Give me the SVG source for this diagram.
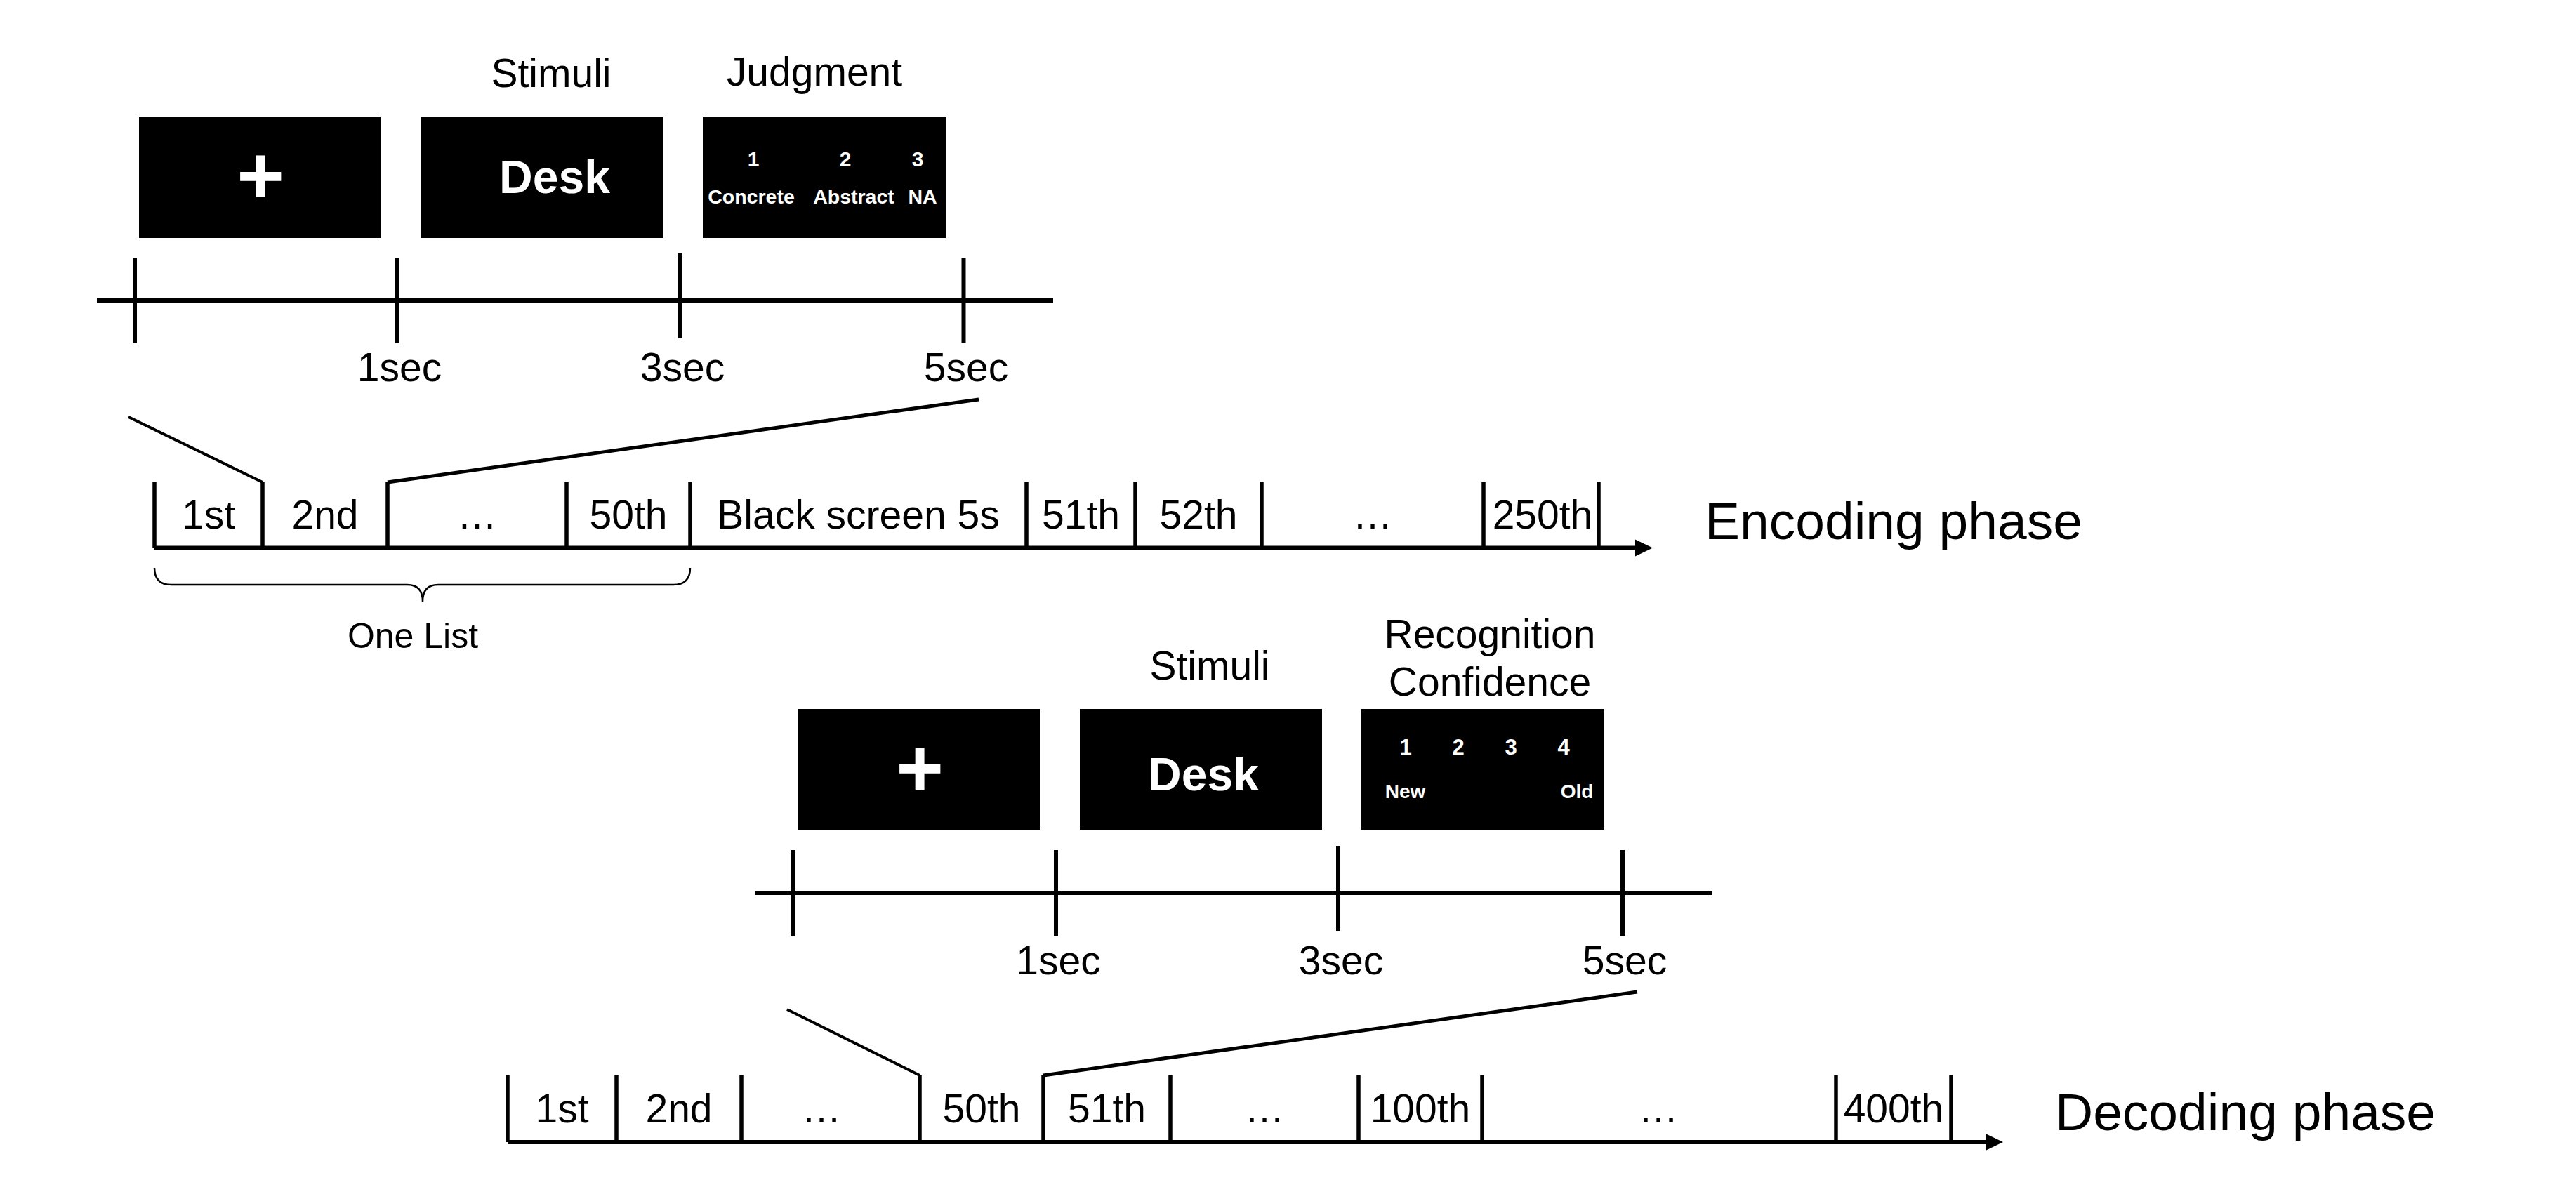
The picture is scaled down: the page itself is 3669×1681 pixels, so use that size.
<svg xmlns="http://www.w3.org/2000/svg" width="3669" height="1681" viewBox="0 0 3669 1681">
<style>
  .bg{fill:#ffffff}
  .screen{fill:#000000}
  .axis{stroke:#000;stroke-width:6;fill:none}
  .tick{stroke:#000;stroke-width:6;fill:none}
  .cell{stroke:#000;stroke-width:5.5;fill:none}
  .zoom{stroke:#000;stroke-width:4;fill:none}
  .zoom2{stroke:#000;stroke-width:5;fill:none}
  .brace{stroke:#000;stroke-width:2.5;fill:none}
  text{font-family:"Liberation Sans",Arial,sans-serif;fill:#000}
  .lbl{font-size:57px;text-anchor:middle}
  .phase{font-size:75px}
  .small{font-size:50px;text-anchor:middle}
  .w{fill:#fff;font-weight:bold;text-anchor:middle}
</style>
<rect class="bg" x="0" y="0" width="3669" height="1681"/>

<!-- ===== Encoding trial ===== -->
<g id="enc-fixation">
  <rect class="screen" x="198" y="167" width="345" height="172"/>
  <text class="w" x="371" y="290" font-size="116">+</text>
</g>
<g id="enc-stimulus">
  <text class="lbl" x="785" y="124">Stimuli</text>
  <rect class="screen" x="600" y="167" width="345" height="172"/>
  <text class="w" x="790" y="275" font-size="66">Desk</text>
</g>
<g id="enc-judgment">
  <text class="lbl" x="1160" y="122">Judgment</text>
  <rect class="screen" x="1001" y="167" width="346" height="172"/>
  <text class="w" x="1073" y="237" font-size="30">1</text>
  <text class="w" x="1204" y="237" font-size="30">2</text>
  <text class="w" x="1307" y="237" font-size="30">3</text>
  <text class="w" x="1070" y="290" font-size="28.5">Concrete</text>
  <text class="w" x="1216" y="290" font-size="28.5">Abstract</text>
  <text class="w" x="1314" y="290" font-size="28.5">NA</text>
</g>
<g id="enc-trial-timeline">
  <line class="axis" x1="138" y1="428" x2="1500" y2="428"/>
  <line class="tick" x1="192" y1="368" x2="192" y2="489"/>
  <line class="tick" x1="565.5" y1="368" x2="565.5" y2="489"/>
  <line class="tick" x1="968" y1="361" x2="968" y2="482"/>
  <line class="tick" x1="1372.5" y1="368" x2="1372.5" y2="489"/>
  <text class="lbl" x="569" y="543">1sec</text>
  <text class="lbl" x="972" y="543">3sec</text>
  <text class="lbl" x="1376" y="543">5sec</text>
</g>

<!-- ===== Encoding phase sequence ===== -->
<g id="encoding-sequence">
  <line class="cell" x1="220" y1="686" x2="220" y2="781"/>
  <line class="cell" x1="374" y1="686" x2="374" y2="781"/>
  <line class="cell" x1="552" y1="686" x2="552" y2="781"/>
  <line class="cell" x1="807" y1="686" x2="807" y2="781"/>
  <line class="cell" x1="983" y1="686" x2="983" y2="781"/>
  <line class="cell" x1="1462" y1="686" x2="1462" y2="781"/>
  <line class="cell" x1="1617" y1="686" x2="1617" y2="781"/>
  <line class="cell" x1="1797" y1="686" x2="1797" y2="781"/>
  <line class="cell" x1="2113" y1="686" x2="2113" y2="781"/>
  <line class="cell" x1="2277" y1="686" x2="2277" y2="781"/>
  <text class="lbl" x="297" y="753">1st</text>
  <text class="lbl" x="463" y="753">2nd</text>
  <text class="lbl" x="679.5" y="753">…</text>
  <text class="lbl" x="895" y="753">50th</text>
  <text class="lbl" x="1222.5" y="753">Black screen 5s</text>
  <text class="lbl" x="1539.5" y="753">51th</text>
  <text class="lbl" x="1707" y="753">52th</text>
  <text class="lbl" x="1955" y="753">…</text>
  <text class="lbl" x="2197" y="753">250th</text>
  <text class="phase" x="2428" y="768">Encoding phase</text>
</g>
<g id="one-list">
  <path class="brace" d="M220,809 Q220,833 244,833 L580,833 Q602,833 602,857 Q602,833 624,833 L959,833 Q983,833 983,809"/>
  <text class="small" x="588" y="923">One List</text>
</g>

<!-- ===== Decoding trial ===== -->
<g id="dec-fixation">
  <rect class="screen" x="1136" y="1010" width="345" height="172"/>
  <text class="w" x="1310" y="1134" font-size="116">+</text>
</g>
<g id="dec-stimulus">
  <text class="lbl" x="1723" y="968">Stimuli</text>
  <rect class="screen" x="1538" y="1010" width="345" height="172"/>
  <text class="w" x="1714" y="1126" font-size="66">Desk</text>
</g>
<g id="dec-recognition">
  <text class="lbl" x="2122" y="923">Recognition</text>
  <text class="lbl" x="2122" y="991">Confidence</text>
  <rect class="screen" x="1939" y="1010" width="346" height="172"/>
  <text class="w" x="2002" y="1075" font-size="31">1</text>
  <text class="w" x="2077" y="1075" font-size="31">2</text>
  <text class="w" x="2152" y="1075" font-size="31">3</text>
  <text class="w" x="2227" y="1075" font-size="31">4</text>
  <text class="w" x="2001.5" y="1137" font-size="28">New</text>
  <text class="w" x="2246" y="1137" font-size="28">Old</text>
</g>
<g id="dec-trial-timeline">
  <line class="axis" x1="1076" y1="1272" x2="2438" y2="1272"/>
  <line class="tick" x1="1130" y1="1211" x2="1130" y2="1333"/>
  <line class="tick" x1="1504" y1="1211" x2="1504" y2="1333"/>
  <line class="tick" x1="1906" y1="1205" x2="1906" y2="1326"/>
  <line class="tick" x1="2311" y1="1211" x2="2311" y2="1333"/>
  <text class="lbl" x="1507.5" y="1388">1sec</text>
  <text class="lbl" x="1910" y="1388">3sec</text>
  <text class="lbl" x="2314" y="1388">5sec</text>
</g>

<!-- ===== Decoding phase sequence ===== -->
<g id="decoding-sequence">
  <line class="cell" x1="723" y1="1532" x2="723" y2="1627"/>
  <line class="cell" x1="878" y1="1532" x2="878" y2="1627"/>
  <line class="cell" x1="1056" y1="1532" x2="1056" y2="1627"/>
  <line class="cell" x1="1310" y1="1532" x2="1310" y2="1627"/>
  <line class="cell" x1="1486" y1="1532" x2="1486" y2="1627"/>
  <line class="cell" x1="1667" y1="1532" x2="1667" y2="1627"/>
  <line class="cell" x1="1935" y1="1532" x2="1935" y2="1627"/>
  <line class="cell" x1="2111" y1="1532" x2="2111" y2="1627"/>
  <line class="cell" x1="2615" y1="1532" x2="2615" y2="1627"/>
  <line class="cell" x1="2779" y1="1532" x2="2779" y2="1627"/>
  <text class="lbl" x="800.5" y="1599">1st</text>
  <text class="lbl" x="967" y="1599">2nd</text>
  <text class="lbl" x="1170" y="1599">…</text>
  <text class="lbl" x="1398" y="1599">50th</text>
  <text class="lbl" x="1576.5" y="1599">51th</text>
  <text class="lbl" x="1801" y="1599">…</text>
  <text class="lbl" x="2023" y="1599">100th</text>
  <text class="lbl" x="2362" y="1599">…</text>
  <text class="lbl" x="2697" y="1599">400th</text>
  <text class="phase" x="2927" y="1610">Decoding phase</text>
</g>

<!-- ===== Connectors ===== -->
<g id="connectors">
  <line class="axis" x1="220" y1="780.5" x2="2331" y2="780.5"/>
  <polygon points="2329,768.5 2354,780.5 2329,792.5" fill="#000"/>
  <line class="axis" x1="723" y1="1627" x2="2830" y2="1627"/>
  <polygon points="2828,1615 2853,1627 2828,1639" fill="#000"/>
  <line class="zoom" x1="183" y1="594" x2="374" y2="687"/>
  <line class="zoom2" x1="552" y1="687" x2="1394" y2="569"/>
  <line class="zoom" x1="1121" y1="1438" x2="1310" y2="1532"/>
  <line class="zoom2" x1="1486" y1="1532" x2="2332" y2="1413"/>
</g>
</svg>
